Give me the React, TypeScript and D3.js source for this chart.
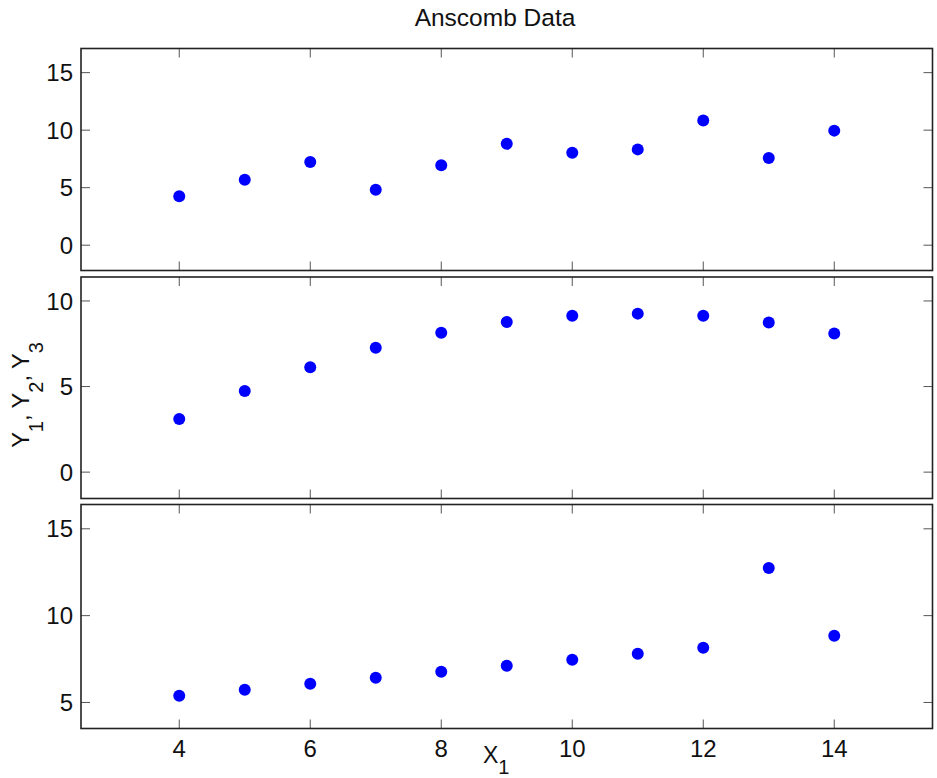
import React from 'react';
import * as d3 from 'd3';

// Anscombe's quartet, sets I–III (shared x)
const xValues = [10, 8, 13, 9, 11, 14, 6, 4, 12, 7, 5];
const y1Values = [8.04, 6.95, 7.58, 8.81, 8.33, 9.96, 7.24, 4.26, 10.84, 4.82, 5.68];
const y2Values = [9.14, 8.14, 8.74, 8.77, 9.26, 8.1, 6.13, 3.1, 9.13, 7.26, 4.74];
const y3Values = [7.46, 6.77, 12.74, 7.11, 7.81, 8.84, 6.08, 5.39, 8.15, 6.42, 5.73];

const xTicks = [4, 6, 8, 10, 12, 14];
const y1Ticks = [0, 5, 10, 15];
const y2Ticks = [0, 5, 10];
const y3Ticks = [5, 10, 15];

const W = 937;
const H = 778;
const left = 81;
const right = 932.5;
const FONT = '"Liberation Sans", Arial, Helvetica, sans-serif';
const TICK = 9;

const x = d3.scaleLinear().domain([2.5, 15.5]).range([left, right]);

const panels = [
  { ys: y1Values, ticks: y1Ticks, domain: [-2.2, 17.1], top: 48.5, bottom: 270.5, showX: false },
  { ys: y2Values, ticks: y2Ticks, domain: [-1.54, 11.4], top: 277, bottom: 498.5, showX: false },
  { ys: y3Values, ticks: y3Ticks, domain: [3.5, 16.4], top: 504.5, bottom: 728.5, showX: true },
];

const Panel = ({ p }: { p: typeof panels[number] }) => {
  const y = d3.scaleLinear().domain(p.domain).range([p.bottom, p.top]);
  return (
    <g>
      {xTicks.map(t => (
        <g key={'x' + t}>
          <line x1={x(t)} x2={x(t)} y1={p.bottom} y2={p.bottom - TICK} stroke="#555" strokeWidth={1} />
          <line x1={x(t)} x2={x(t)} y1={p.top} y2={p.top + TICK} stroke="#555" strokeWidth={1} />
          {p.showX && (
            <text x={x(t)} y={p.bottom + 28} textAnchor="middle" fontSize={24} fill="#111">{t}</text>
          )}
        </g>
      ))}
      {p.ticks.map(t => (
        <g key={'y' + t}>
          <line x1={left} x2={left + TICK} y1={y(t)} y2={y(t)} stroke="#555" strokeWidth={1} />
          <line x1={right} x2={right - TICK} y1={y(t)} y2={y(t)} stroke="#555" strokeWidth={1} />
          <text x={left - 8} y={y(t)} dy="0.36em" textAnchor="end" fontSize={24} fill="#111">{t}</text>
        </g>
      ))}
      {p.ys.map((v, i) => (
        <circle key={i} cx={x(xValues[i])} cy={y(v)} r={6} fill="#0000ff" />
      ))}
      <rect x={left} y={p.top} width={right - left} height={p.bottom - p.top}
        fill="none" stroke="#222" strokeWidth={1.6} />
    </g>
  );
};

export default function App() {
  return (
    <svg width={W} height={H} style={{ position: 'absolute', left: 0, top: 0, background: '#fff' }}
      fontFamily={FONT}>
      <rect width={W} height={H} fill="#fff" />
      {panels.map((p, i) => <Panel key={i} p={p} />)}
      <text x={495} y={26} textAnchor="middle" fontSize={24.5} fill="#111">Anscomb Data</text>
      <text x={483} y={763} fontSize={23} fill="#111">
        X<tspan dy={11} fontSize={20}>1</tspan>
      </text>
      <text transform="translate(29,395) rotate(-90)" textAnchor="middle" fontSize={23.5} fill="#111">
        Y<tspan dy={14} fontSize={20}>1</tspan>
        <tspan dy={-14}>, Y</tspan><tspan dy={14} fontSize={20}>2</tspan>
        <tspan dy={-14}>, Y</tspan><tspan dy={14} fontSize={20}>3</tspan>
      </text>
    </svg>
  );
}
